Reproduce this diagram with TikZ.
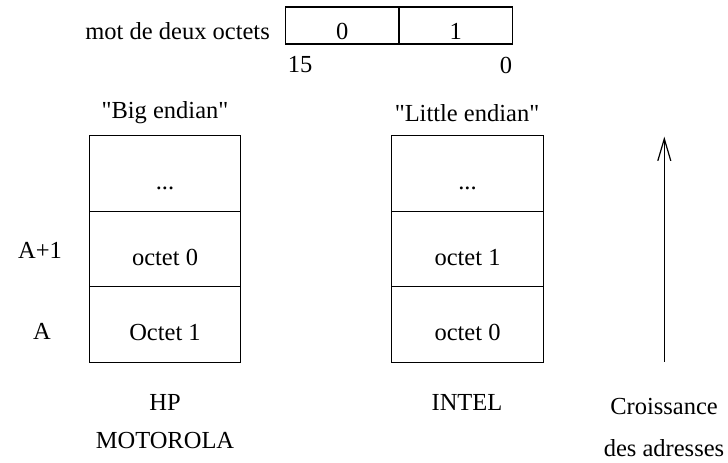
\documentclass[tikz,border=0pt]{standalone}
\usepackage{fontspec}
\setmainfont{Liberation Serif}
\usetikzlibrary{arrows.meta}
\begin{document}
\begin{tikzpicture}[x=1pt,y=-1pt,
  lbl/.style={inner sep=0pt,font=\fontsize{24.5}{29}\selectfont},
  cell/.style={draw,line width=1.2pt,minimum width=151.5pt,minimum height=75.5pt,inner sep=0pt,text height=32pt,text depth=0pt,font=\fontsize{24.5}{29}\selectfont},
  half/.style={draw,line width=1.2pt,minimum width=113.5pt,minimum height=37pt,inner sep=0pt,text height=27pt,text depth=0pt,font=\fontsize{24.5}{29}\selectfont}]
\useasboundingbox (0,0) rectangle (728,463);
% top word
\node[half] (b0) at (342.3,25.5) {0};
\node[half] (b1) at (455.8,25.5) {1};
\node[lbl,anchor=base east] (mot) at (270,39) {mot de deux octets};
\node[lbl] (n15) at (300,65) {15};
\node[lbl] (n0) at (506,65) {0};
% big endian
\node[lbl] (big) at (165,113) {\textquotedbl Big endian\textquotedbl};
\node[cell] (bd) at (165,173.5) {...};
\node[cell] (bo0) at (165,249) {octet 0};
\node[cell] (bo1) at (165,324.5) {Octet 1};
\node[lbl] (a1) at (40,250) {A+1};
\node[lbl] (a0) at (42,331) {A};
\node[lbl] (hp) at (165,402) {HP};
\node[lbl] (moto) at (165,441) {MOTOROLA};
% little endian
\node[lbl] (little) at (467,113) {\textquotedbl Little endian\textquotedbl};
\node[cell] (ld) at (467.5,173.5) {...};
\node[cell] (lo1) at (467.5,249) {octet 1};
\node[cell] (lo0) at (467.5,324.5) {octet 0};
\node[lbl] (intel) at (467,402) {INTEL};
% arrow
\coordinate (abot) at (664.3,361.7);
\coordinate (atop) at (664.3,136.7);
\draw[line width=1.2pt,-{Straight Barb[length=22pt,width=13pt,line width=1.2pt]}] (abot) -- (atop);
\node[lbl] (crois) at (664,407) {Croissance};
\node[lbl,anchor=base] (adr) at (664,456) {des adresses};
\end{tikzpicture}
\end{document}
